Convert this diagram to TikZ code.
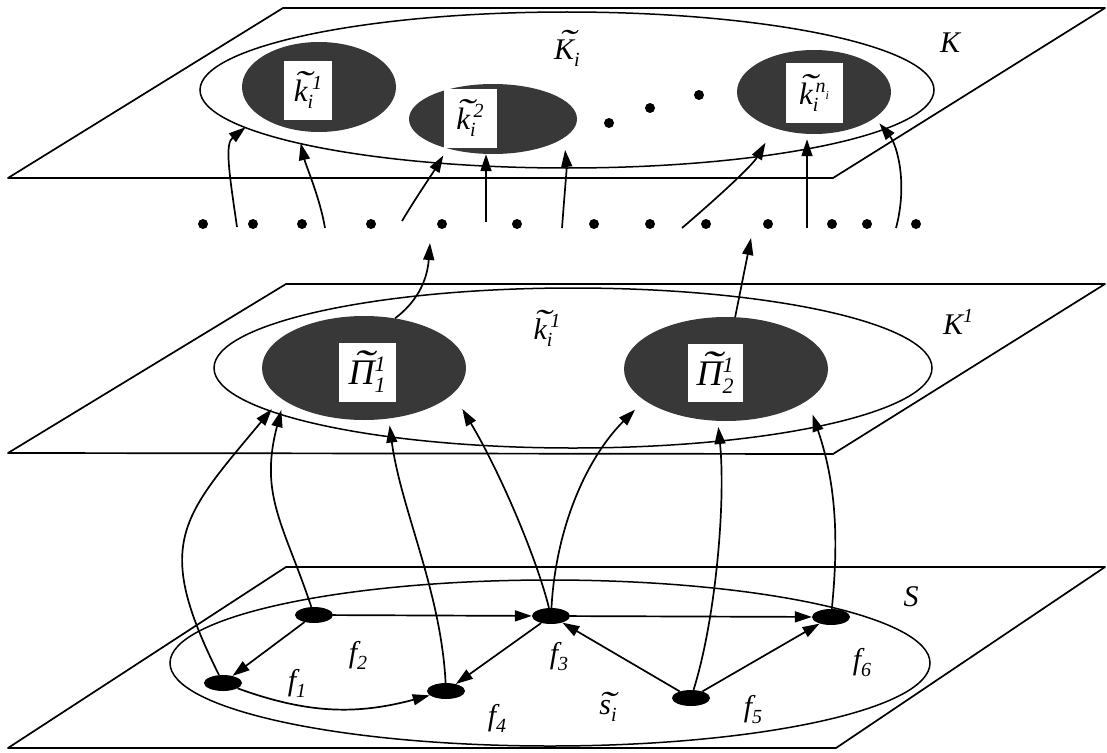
\documentclass[tikz,border=0pt]{standalone}
\usepackage{fontspec}
\setmainfont{Liberation Serif}
\usepackage{graphicx}
\usetikzlibrary{arrows.meta,shapes.geometric}
\newcommand\fs[1]{\fontsize{#1}{#1}\selectfont}
\newcommand\dnsc[2][20]{\raisebox{-7pt}{\fs{#1}#2}}
\newcommand\upsc[2][20]{\raisebox{12pt}{\fs{#1}#2}}
\newcommand\tild[3][2pt]{{\setbox0\hbox{#3}\rlap{\kern#1\hbox to\wd0{\hss\raisebox{#2}{\scalebox{1.7}[1.1]{\char"02DC}}\hss}}\box0}}
\begin{document}
\begin{tikzpicture}[x=1pt,y=-1pt,
  plane/.style={line width=1.7pt, line join=round},
  region/.style={draw, ellipse, line width=1.5pt, inner sep=0pt},
  dark/.style={ellipse, fill=black!78, inner sep=0pt},
  wbox/.style={rectangle, fill=white, inner sep=0pt, font=\fs{31}\itshape},
  vert/.style={ellipse, fill=black, minimum width=38pt, minimum height=16pt, inner sep=0pt},
  arr/.style={-{Triangle[length=17pt,width=11pt]}, line width=1.7pt},
  lbl/.style={font=\fs{30}\itshape, inner sep=0pt},
  bullet/.style={circle, fill=black, minimum size=10pt, inner sep=0pt}]

\fill[white] (0,0) rectangle (1107,752);
\useasboundingbox (0,0) rectangle (1107,752);

% planes
\draw[plane] (283,8) -- (1105,8) -- (833,178) -- (8,178) -- cycle;
\draw[plane] (286,284) -- (1105,284) -- (833,454) -- (8,453) -- cycle;
\draw[plane] (286,567) -- (1105,567) -- (836,748) -- (8,748) -- cycle;

% regions
\node[region, minimum width=734pt, minimum height=156pt] (Kt) at (567,90) {};
\node[region, minimum width=718pt, minimum height=160pt] (Kone) at (573,368) {};
\node[region, minimum width=760pt, minimum height=166pt] (St) at (550,663) {};

% top layer
\node[dark, minimum width=154pt, minimum height=90pt] (k1) at (319,87) {};
\node[dark, minimum width=168pt, minimum height=70pt] (k2) at (493,119) {};
\node[dark, minimum width=154pt, minimum height=84pt] (kn) at (814,92) {};
\node[wbox, minimum width=48pt, minimum height=59pt] (k1l) at (308,90) {\tild{7pt}{k}\dnsc{i}\kern-1pt\upsc{1}};
\node[wbox, minimum width=53pt, minimum height=59pt] (k2l) at (470,118) {\tild{7pt}{k}\dnsc{i}\kern-2pt\upsc{2}};
\node[wbox, minimum width=57pt, minimum height=60pt] (knl) at (814,93) {\tild{7pt}{k}\dnsc{i}\kern-3pt\upsc{n\dnsc[12]{i}}};
\node[bullet] (e1) at (609,123) {};
\node[bullet] (e2) at (650,108) {};
\node[bullet] (e3) at (699,95) {};

% middle layer
\node[dark, minimum width=204pt, minimum height=104pt] (P1) at (364,368) {};
\node[dark, minimum width=204pt, minimum height=104pt] (P2) at (726,369) {};
\node[wbox, minimum width=57pt, minimum height=59pt, font=\fs{36}\itshape] (P1l) at (367,372)
  {\tild{7pt}{Π}\rlap{\raisebox{-8pt}{\fs{22}1}}\raisebox{13pt}{\fs{22}1}};
\node[wbox, minimum width=55pt, minimum height=58pt, font=\fs{36}\itshape] (P2l) at (715,373)
  {\tild{7pt}{Π}\rlap{\raisebox{-8pt}{\fs{22}2}}\raisebox{13pt}{\fs{22}1}};

% row of points
\foreach \x [count=\n] in {203,253,302,371,442,517,594,650,706,768,832,867,916}
  \node[bullet] (r\n) at (\x,224) {};

% bottom layer vertices
\node[vert] (f1) at (223,683) {};
\node[vert] (f2) at (314,615) {};
\node[vert] (f3) at (551,616) {};
\node[vert] (f4) at (446,691) {};
\node[vert] (f5) at (691,698) {};
\node[vert] (f6) at (831,617) {};

% labels
\node[lbl] (Klab) at (950,43) {K};
\node[lbl] (Kilab) at (567,48) {\tild[3pt]{7pt}{K}\dnsc{i}};
\node[lbl] (K1lab) at (958,322) {K\upsc{1}};
\node[lbl] (ki1lab) at (547,328) {\tild{7pt}{k}\dnsc{i}\kern-2pt\upsc{1}};
\node[lbl] (Slab) at (911,597) {S};
\node[lbl] (silab) at (608,707) {\tild{0pt}{s}\dnsc{i}};
\node[lbl] (f1lab) at (297,683) {f\dnsc{1}};
\node[lbl] (f2lab) at (358,655) {f\dnsc{2}};
\node[lbl] (f3lab) at (559,657) {f\dnsc{3}};
\node[lbl] (f4lab) at (497,718) {f\dnsc{4}};
\node[lbl] (f5lab) at (753,710) {f\dnsc{5}};
\node[lbl] (f6lab) at (862,663) {f\dnsc{6}};

% free ends of connectors
\coordinate (s1) at (237,227);
\coordinate (s2) at (325,228);
\coordinate (s3) at (402,221);
\coordinate (s4) at (486,222);
\coordinate (s5) at (562,228);
\coordinate (s6) at (682,228);
\coordinate (s7) at (807,228);
\coordinate (s8) at (896,228);
\coordinate (t1) at (430,243);
\coordinate (t2) at (751,238);

% arrows into top layer
\draw[arr, shorten >=18pt] (s1) .. controls +(-8,-55) and +(-35,28) .. (k1.206);
\draw[arr, shorten >=13pt] (s2) .. controls +(-5,-30) and +(8,35) .. (k1.244);
\draw[arr, shorten >=8pt] (s3) .. controls +(15,-25) and +(-15,25) .. (k2.213);
\draw[arr] (s4) -- (s4 |- k2.south);
\draw[arr, shorten >=12pt] (s5) .. controls +(3,-40) and +(3,30) .. (k2.345);
\draw[arr, shorten >=17pt] (s6) .. controls +(35,-30) and +(-22,38) .. (kn.222);
\draw[arr, shorten >=5pt] (s7) -- (s7 |- kn.south);
\draw[arr, shorten >=7pt] (s8) .. controls +(12,-45) and +(22,27) .. (kn.337);

% arrows from middle layer
\draw[arr] (P1.58) .. controls +(20,-15) and +(-3,40) .. (t1);
\draw[arr] (P2.80) -- (t2);

% arrows from bottom to middle layer
\draw[arr, shorten >=14pt] (f1) .. controls +(-70,-140) and +(-100,120) .. (P1.200);
\draw[arr, shorten >=10pt] (f2) .. controls +(-30,-90) and +(-25,95) .. (P1.202);
\draw[arr, shorten >=7pt] (f4) .. controls +(-5,-100) and +(12,90) .. (P1.296);
\draw[arr, shorten >=18pt] (f3) .. controls +(-15,-60) and +(46,77) .. (P1.344);
\draw[arr, shorten >=13pt] (f3) .. controls +(5,-90) and +(-57,57) .. (P2.201);
\draw[arr, shorten >=6pt] (f5) .. controls +(25,-80) and +(8,80) .. (P2.261);
\draw[arr, shorten >=15pt] (f6) .. controls +(8,-80) and +(28,82) .. (P2.339);

% bottom layer edges
\draw[arr] (f2) -- (f1);
\draw[arr] (f2) -- (f3);
\draw[arr] (f1) to[out=-20,in=195] (f4);
\draw[arr] (f3) -- (f4);
\draw[arr] (f3) -- (f6);
\draw[arr] (f5) -- (f3);
\draw[arr] (f5) -- (f6);
\end{tikzpicture}
\end{document}
